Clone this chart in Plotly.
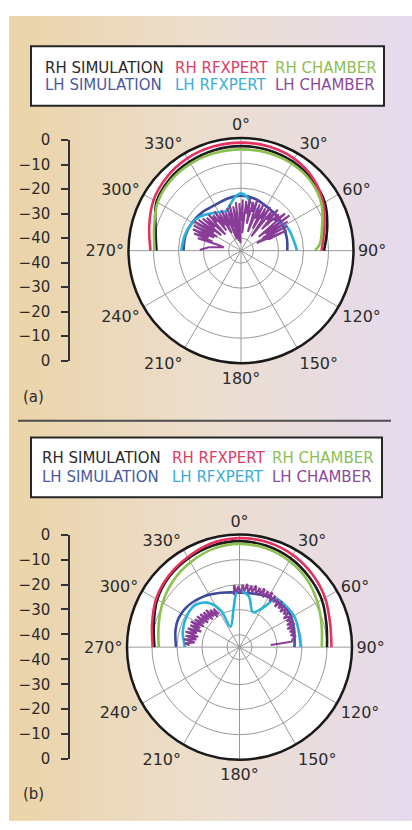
import plotly.graph_objects as go

W, H = 412, 830

# ---------------- data (dB versus angle in degrees) ----------------
# Panel (a)
a_rh_ang = [-90, -75, -60, -45, -30, -15, 0, 15, 30, 45, 60, 75, 90]
a_rh_sim = [-11.2, -9.6, -6.0, -4.6, -3.9, -3.4, -3.2, -3.3, -3.8, -4.8, -6.3, -9.3, -11.8]
a_rh_rfx = [-8.8, -7.0, -4.6, -3.2, -2.3, -1.9, -1.8, -1.9, -2.5, -4.2, -7.0, -10.5, -12.8]
a_rh_ch_ang = [-90, -75, -60, -45, -30, -15, 0, 15, 30, 45, 60, 75, 85, 90]
a_rh_ch = [-10.5, -9.0, -6.5, -5.3, -4.8, -4.6, -4.5, -4.5, -4.7, -5.6, -7.8, -11.5, -13.3, -15.4]

a_lh_sim_ang = [-90, -75, -60, -45, -30, -15, 0, 15, 30, 45, 60, 75, 90]
a_lh_sim = [-22.0, -22.0, -22.5, -23.2, -24.0, -23.5, -23.0, -23.5, -24.6, -25.0, -25.5, -26.0, -26.5]
a_lh_rfx_ang = [-90, -75, -62, -51, -41, -30, -20, -13, -5, 0, 5, 12, 20, 28, 38, 51, 63, 79, 90]
a_lh_rfx = [-21.1, -21.7, -22.4, -23.6, -25.5, -27.3, -28.0, -26.0, -23.0, -22.1, -23.0, -25.5, -27.5,
            -29.3, -28.0, -26.2, -24.3, -23.5, -22.6]
a_lh_ch_ang = [-89, -84, -79, -76, -74, -72, -70, -68, -66, -64, -62, -60, -58, -56, -54, -52, -50,
               -48, -46, -44, -42, -40, -38, -36, -34, -32, -30, -28, -26, -24, -22, -20, -18, -16,
               -14, -12, -10, -8, -6, -4, -2, 0, 2, 4, 6, 8, 10, 12, 14, 16, 18, 20, 22, 24, 26, 28,
               30, 32, 34, 36, 38, 40, 42, 44, 46, 48, 50, 52, 54, 56, 58, 60, 62, 64, 66, 68]
a_lh_ch = [-28.5, -32, -38, -36, -27, -33, -25, -31, -24, -33, -23.5, -34, -23, -32, -24, -35, -25,
           -31, -26, -36, -25.5, -30, -27, -35, -26, -33, -28, -37, -27, -34, -28.5, -40, -27, -35,
           -26, -41, -27, -36, -25.5, -42, -26, -33, -24.5, -38, -25, -30, -23.5, -34, -25, -29,
           -23.5, -37, -25, -31, -24, -35, -25.5, -30, -24, -38, -25, -29, -23, -33, -24, -27, -22,
           -36, -21, -33, -23, -35, -24, -38, -25, -33]

# Panel (b)
b_rh_ang = [-90, -75, -60, -45, -30, -15, 0, 15, 30, 45, 60, 75, 90]
b_rh_sim = [-11.0, -9.5, -7.0, -5.2, -4.0, -3.0, -2.6, -3.0, -4.0, -5.5, -7.0, -9.0, -10.0]
b_rh_rfx = [-10.3, -8.8, -6.5, -4.8, -3.5, -2.0, -1.4, -1.6, -2.4, -3.8, -5.5, -7.5, -8.2]
b_rh_ch = [-12.7, -11.5, -9.5, -7.5, -5.8, -4.3, -3.7, -4.1, -5.2, -6.8, -9.0, -11.0, -12.1]

b_lh_sim_ang = [-90, -75, -65, -51, -35, -19, 0, 24, 42, 55, 71, 90]
b_lh_sim = [-19.6, -18.5, -18.0, -18.6, -20.2, -22.0, -23.2, -22.2, -21.1, -20.8, -22.0, -23.0]
b_lh_rfx_ang = [-90, -75, -61, -47, -36, -27, -24, -9, -4, -2, 10, 21, 31, 37, 48, 63, 90]
b_lh_rfx = [-23.2, -21.5, -20.6, -20.5, -23.0, -28.5, -36.1, -29.6, -23.8, -22.2, -24.2, -30.0,
            -26.5, -20.9, -20.2, -19.9, -20.5]
b_lh_ch_ang = [-88, -86, -84, -82, -80, -78, -76, -74, -72, -70, -68, -66, -64, -62, -60, -58, -56,
               -54, -52, -50, -48, -46, -44, -42, -40, -38, -36, -34, -32, None,
               -6, -5, -3, -1, 1, 3, 5, 7, 9, 11, 13, 15, 17, 19, 21, 23, 25, 27, 29, 31, 33, 35,
               37, 39, 41, 43, 45, 47, 49, 51, 53, 55, 57, 59, 61, 63, 65, 67, 69, 71, 73, 75, 77,
               79, 81, 84, 86]
b_lh_ch = [-25, -23, -27, -22.5, -27.5, -23, -28, -22.5, -27, -23, -28.5, -23.5, -27.5, -23, -28.5,
           -24, -28, -24, -29, -24.5, -28.5, -25, -29.5, -25, -29, -26, -30, -26.5, -29.5, None,
           -24, -20, -23, -20.5, -23.5, -20, -22.5, -19.5, -23, -20, -22.5, -19.5, -23, -20, -22.5,
           -19.5, -23, -20, -22, -19.5, -23, -20, -22.5, -20.5, -23.5, -20, -23, -20.5, -23.5,
           -20.5, -23, -21, -24, -20.5, -23.5, -21, -24, -21, -24.5, -21.5, -24, -22, -24, -22,
           -23.5, -24, -32.5]

series_names = ["RH SIMULATION", "RH RFXPERT", "RH CHAMBER",
                "LH SIMULATION", "LH RFXPERT", "LH CHAMBER"]
line_colors = ["#1c1c1c", "#e6315e", "#8cc04f", "#3b4b9e", "#29b2da", "#8a3d98"]
text_colors = ["#2a2a2a", "#e23c66", "#8dbf55", "#4b59a0", "#3aaed6", "#8b4a9b"]
line_widths = [2.6, 2.6, 2.6, 2.6, 2.6, 2.0]

db_ticks = ["0", "\u221210", "\u221220", "\u221230", "\u221240",
            "\u221240", "\u221230", "\u221220", "\u221210", "0"]
ang_vals = list(range(0, 360, 30))
ang_text = [f"{v}\u00b0" for v in ang_vals]

FONT = "DejaVu Sans"


def px(x):
    return x / W


def py(y):
    return 1 - y / H


fig = go.Figure()

# background wash
fig.add_trace(go.Heatmap(
    z=[[0, 1], [0, 1]], x=[0, 1], y=[0, 1], zsmooth="best", showscale=False,
    colorscale=[[0, "#ebd4a8"], [0.5, "#ecdece"], [1, "#e5daee"]],
    hoverinfo="skip", xaxis="x", yaxis="y"))

# placeholders so the dB scale subplots exist
fig.add_trace(go.Scatter(x=[None], y=[None], xaxis="x2", yaxis="y2", showlegend=False, hoverinfo="skip"))
fig.add_trace(go.Scatter(x=[None], y=[None], xaxis="x3", yaxis="y3", showlegend=False, hoverinfo="skip"))

panels = [
    ("polar", [(a_rh_ang, a_rh_sim), (a_rh_ang, a_rh_rfx), (a_rh_ch_ang, a_rh_ch),
               (a_lh_sim_ang, a_lh_sim), (a_lh_rfx_ang, a_lh_rfx), (a_lh_ch_ang, a_lh_ch)]),
    ("polar2", [(b_rh_ang, b_rh_sim), (b_rh_ang, b_rh_rfx), (b_rh_ang, b_rh_ch),
                (b_lh_sim_ang, b_lh_sim), (b_lh_rfx_ang, b_lh_rfx), (b_lh_ch_ang, b_lh_ch)]),
]
for sub, curves in panels:
    for i, (th, r) in enumerate(curves):
        fig.add_trace(go.Scatterpolar(
            theta=th, r=r, mode="lines", name=series_names[i], subplot=sub,
            line=dict(color=line_colors[i], width=line_widths[i],
                      shape="linear" if i == 5 else "spline"),
            connectgaps=False, showlegend=False, hoverinfo="skip"))

polar_common = dict(
    bgcolor="white",
    angularaxis=dict(rotation=90, direction="clockwise", tickmode="array",
                     tickvals=ang_vals, ticktext=ang_text, ticks="",
                     showline=True, linecolor="#1a1a1a", linewidth=2.5,
                     gridcolor="#9a9a9a", gridwidth=1,
                     tickfont=dict(family=FONT, size=16, color="#2b2b2b")),
    radialaxis=dict(range=[-45, 0], tickvals=[-40, -30, -20, -10], showticklabels=False,
                    ticks="", showline=False, gridcolor="#9a9a9a", gridwidth=1),
)

R = 115
ca = (241, 247)
cb = (239.5, 652.3)

axis_common = dict(range=[0, 9], tickmode="array", tickvals=list(range(10)),
                   ticktext=db_ticks[::-1], ticks="outside", ticklen=7, tickwidth=1.5,
                   tickcolor="#333", showline=True, linecolor="#333", linewidth=1.5,
                   showgrid=False, zeroline=False, ticklabelstandoff=8,
                   tickfont=dict(family=FONT, size=15, color="#2b2b2b"), fixedrange=True)

fig.update_layout(
    width=W, height=H, margin=dict(l=0, r=0, t=0, b=0),
    paper_bgcolor="white", plot_bgcolor="rgba(0,0,0,0)", showlegend=False,
    xaxis=dict(domain=[px(9), 1], range=[0, 1], visible=False, fixedrange=True),
    yaxis=dict(domain=[0, py(7)], range=[0, 1], visible=False, fixedrange=True),
    xaxis2=dict(domain=[px(70), px(80)], visible=False, anchor="y2", range=[0, 1]),
    yaxis2=dict(domain=[py(359.3), py(134)], anchor="x2", side="left", **axis_common),
    xaxis3=dict(domain=[px(70), px(80)], visible=False, anchor="y3", range=[0, 1]),
    yaxis3=dict(domain=[py(766.7), py(537.3)], anchor="x3", side="left", **axis_common),
    polar=dict(domain=dict(x=[px(ca[0] - R), px(ca[0] + R)], y=[py(ca[1] + R), py(ca[1] - R)]),
               **polar_common),
    polar2=dict(domain=dict(x=[px(cb[0] - R), px(cb[0] + R)], y=[py(cb[1] + R), py(cb[1] - R)]),
                **polar_common),
)

shapes = []
annotations = []

# legend boxes
legend_boxes = [((31, 38, 384, 99), (60, 78), (43, 173, 273)),
                ((31, 438, 382, 499), (459, 478), (40, 170, 270))]
for (x0, y0, x1, y1), rows, cols in legend_boxes:
    shapes.append(dict(type="rect", xref="paper", yref="paper",
                       x0=px(x0), x1=px(x1), y0=py(y1), y1=py(y0),
                       fillcolor="white", line=dict(color="#262626", width=2), layer="above"))
    for k in range(6):
        annotations.append(dict(
            text=series_names[k], xref="paper", yref="paper",
            x=px(cols[k % 3]), y=py(rows[k // 3]), xanchor="left", yanchor="middle",
            showarrow=False, font=dict(family=FONT, size=15, color=text_colors[k])))

# separator between the two panels
shapes.append(dict(type="line", xref="paper", yref="paper", x0=px(18), x1=px(391),
                   y0=py(421), y1=py(421), line=dict(color="#4d4d4d", width=2)))

for lab, yy in (("(a)", 397), ("(b)", 802)):
    annotations.append(dict(text=lab, xref="paper", yref="paper", x=px(21), y=py(yy),
                            xanchor="left", yanchor="middle", showarrow=False,
                            font=dict(family=FONT, size=15, color="#2b2b2b")))

fig.update_layout(shapes=shapes, annotations=annotations)
fig.write_html("out.html")
